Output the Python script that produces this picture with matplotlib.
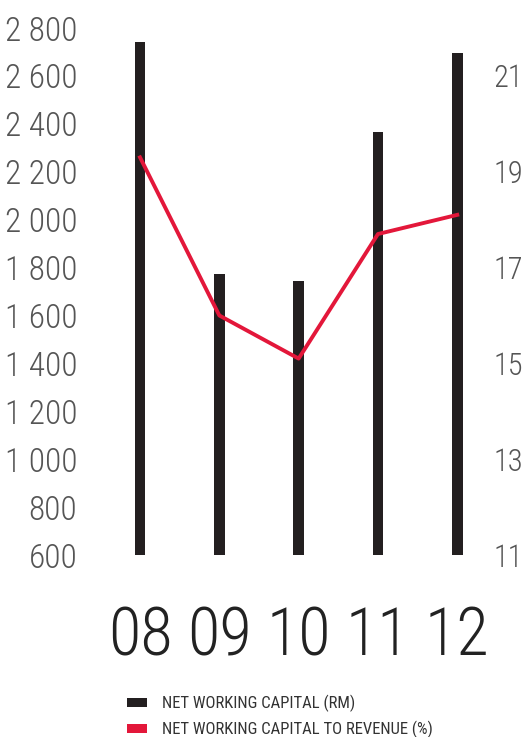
import matplotlib
matplotlib.use('Agg')
import matplotlib.pyplot as plt
from matplotlib import font_manager
from matplotlib.patches import Patch

years = ['08', '09', '10', '11', '12']
working_capital = [2740, 1775, 1742, 2365, 2695]     # RM
capital_to_revenue = [19.3, 16.0, 15.1, 17.7, 18.1]  # %

left_ticks = list(range(600, 2801, 200))
right_ticks = list(range(11, 22, 2))

bar_color = '#231f20'
line_color = '#e3173a'
label_color = '#555555'

# pick the narrowest family that is installed
installed = {f.name for f in font_manager.fontManager.ttflist}
narrow = next((n for n in ['Roboto Condensed', 'Liberation Sans Narrow', 'Open Sans Condensed']
               if n in installed), 'DejaVu Sans')
plt.rcParams['font.family'] = [narrow, 'DejaVu Sans']

fig = plt.figure(figsize=(5.28, 7.37), dpi=100)
ax = fig.add_axes([0.1515, 0.2469, 0.7955, 0.7151])

x = list(range(len(years)))
ax.bar(x, working_capital, width=0.135, bottom=0, color=bar_color, zorder=2)
ax.set_xlim(-0.757, 4.539)
ax.set_ylim(600, 2800)
ax.set_yticks(left_ticks)
ax.set_yticklabels(['{:,}'.format(v).replace(',', ' ') for v in left_ticks],
                   fontsize=24, color=label_color, fontweight='light')
ax.set_xticks(x)
ax.set_xticklabels(years, fontsize=48, color='#222222', fontweight='light')
ax.tick_params(axis='y', length=0, pad=2)
ax.tick_params(axis='x', length=0, pad=36)

ax2 = ax.twinx()
ax2.plot(x, capital_to_revenue, color=line_color, lw=2.8, zorder=3)
ax2.set_ylim(11, 22)
ax2.set_yticks(right_ticks)
ax2.set_yticklabels([str(v) for v in right_ticks], fontsize=22,
                    color=label_color, fontweight='light', ha='center')
ax2.tick_params(axis='y', length=0, pad=6)

for a in (ax, ax2):
    for s in a.spines.values():
        s.set_visible(False)

handles = [Patch(facecolor=bar_color, label='NET WORKING CAPITAL (RM)'),
           Patch(facecolor=line_color, label='NET WORKING CAPITAL TO REVENUE (%)')]
fig.legend(handles=handles, loc='upper left', bbox_to_anchor=(0.2405, 0.057),
           frameon=False, fontsize=12, labelcolor='#333333',
           handlelength=1.2, handleheight=0.45, handletextpad=0.9,
           labelspacing=0.5, borderaxespad=0, borderpad=0)

plt.savefig('out.png', dpi=100)
